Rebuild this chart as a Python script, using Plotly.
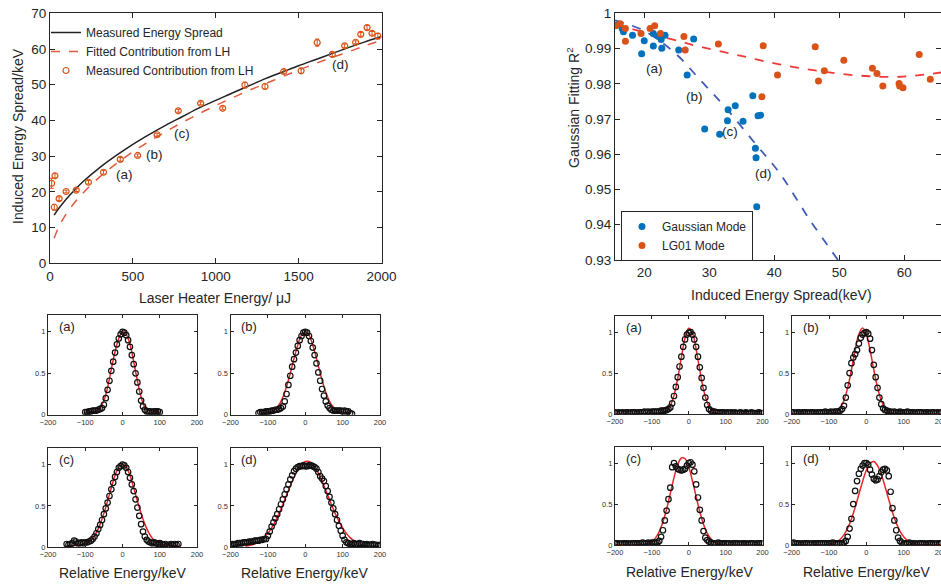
import plotly.graph_objects as go

# ---------------- data: top-left (laser heater scan) ----------------
lh_energy = [10, 30, 26, 55, 97, 158, 232, 323, 424, 529, 646, 774, 909, 1042, 1176,
             1297, 1410, 1515, 1612, 1703, 1778, 1844, 1875, 1913, 1943, 1978]
lh_spread = [22.4, 24.5, 15.7, 18.1, 20.1, 20.5, 22.7, 25.5, 29.1, 30.2, 36.0, 42.7, 44.8, 43.4, 49.9,
             49.5, 53.7, 53.9, 61.8, 58.5, 60.9, 61.9, 64.1, 66.0, 64.4, 63.6]
lh_err = [1.4, 0.6, 0.8, 0.5, 0.4, 0.4, 0.5, 0.5, 0.5, 0.4, 0.4, 0.4, 0.4, 0.4, 0.8,
          0.7, 0.5, 0.7, 1.0, 0.6, 0.5, 0.4, 0.5, 0.6, 0.5, 0.8]
curve_x = [25, 50, 100, 150, 200, 300, 400, 500, 600, 700, 800, 900, 1000, 1100, 1200,
           1300, 1400, 1500, 1600, 1700, 1800, 1900, 2000]
measured_y = [13.5, 15.2, 18.1, 20.6, 22.9, 26.8, 30.2, 33.3, 36.1, 38.7, 41.1, 43.5, 45.6, 47.7, 49.7,
              51.7, 53.5, 55.3, 57.0, 58.7, 60.4, 62.0, 63.5]
fitted_y = [7.0, 9.9, 14.0, 17.1, 19.7, 24.2, 27.9, 31.2, 34.2, 36.9, 39.5, 41.9, 44.2, 46.3, 48.4,
            50.3, 52.2, 54.1, 55.9, 57.6, 59.2, 60.9, 62.4]
tl_labels = ["(a)", "(b)", "(c)", "(d)"]
tl_label_x = [452, 628, 798, 1753]
tl_label_y = [25.0, 30.5, 36.4, 55.7]

# ---------------- data: top-right (Gaussian fitting R^2) ----------------
gauss_x = [15.8, 16.6, 16.8, 18.2, 19.6, 20.0, 21.4, 21.4, 22.2, 22.6, 22.7, 23.2, 25.3, 27.6, 26.6,
           29.3, 31.6, 32.9, 32.8, 34.0, 35.2, 36.7, 37.5, 37.9, 37.1, 37.2, 37.3]
gauss_y = [0.9967, 0.9957, 0.9948, 0.9938, 0.9885, 0.9922, 0.9943, 0.9907, 0.9934, 0.9926, 0.9901,
           0.9938, 0.9896, 0.9927, 0.9825, 0.9672, 0.9657, 0.9726, 0.9695, 0.9738, 0.9694, 0.9766,
           0.9709, 0.9711, 0.9617, 0.9590, 0.9451]
lg_x = [15.6, 16.3, 17.1, 17.1, 19.5, 20.9, 21.6, 22.5, 26.1, 26.3, 31.4, 38.3, 38.1, 40.5, 46.3,
        46.8, 47.7, 50.7, 55.1, 55.8, 56.7, 59.2, 59.3, 59.8, 62.3, 64.0]
lg_y = [0.9965, 0.9970, 0.9957, 0.9921, 0.9943, 0.9957, 0.9965, 0.9943, 0.9934, 0.9896, 0.9913,
        0.9908, 0.9763, 0.9825, 0.9905, 0.9808, 0.9837, 0.9867, 0.9844, 0.9829, 0.9794, 0.9801,
        0.9794, 0.9789, 0.9883, 0.9813]
gauss_fit_x = [15.5, 20, 24.8, 28.6, 32.4, 37.0, 40.8, 45.5, 49.8]
gauss_fit_y = [0.998, 0.995, 0.9886, 0.9811, 0.9735, 0.9632, 0.9547, 0.9413, 0.9300]
lg_fit_x = [15.5, 20, 24.3, 28.6, 34.7, 40.8, 47.0, 53.2, 59.4, 65.65]
lg_fit_y = [0.9968, 0.9946, 0.9926, 0.9905, 0.9880, 0.9855, 0.9836, 0.9823, 0.9820, 0.9832]
tr_label_x = [21.6, 27.8, 33.2, 38.3]
tr_label_y = [0.9844, 0.9763, 0.9664, 0.9546]

# ---------------- data: energy profiles (relative energy, keV) ----------------
# left column (Gaussian laser mode), circles sampled every 5 keV from start
left_a_start = -100
left_a = [0.03, 0.03, 0.04, 0.04, 0.05, 0.05, 0.05, 0.06, 0.07, 0.08,
          0.12, 0.20, 0.30, 0.41, 0.53, 0.64, 0.75, 0.85, 0.92, 0.97,
          1.00, 0.99, 0.96, 0.90, 0.82, 0.72, 0.61, 0.50, 0.39, 0.28,
          0.17, 0.10, 0.06, 0.04, 0.04, 0.04, 0.03, 0.04, 0.04, 0.04,
          0.03]
left_a_fit_start = -100
left_a_fit = [0.03, 0.03, 0.04, 0.05, 0.09, 0.17, 0.33, 0.55, 0.76, 0.92, 1.00,
              0.97, 0.85, 0.64, 0.41, 0.21, 0.09, 0.05, 0.04, 0.04, 0.03]

left_b_start = -125
left_b = [0.02, 0.03, 0.03, 0.03, 0.04, 0.04, 0.04, 0.05, 0.05, 0.06,
          0.06, 0.07, 0.08, 0.10, 0.16, 0.25, 0.36, 0.47, 0.58, 0.67,
          0.75, 0.83, 0.90, 0.95, 0.99, 1.00, 0.99, 0.95, 0.89, 0.81,
          0.72, 0.62, 0.51, 0.41, 0.31, 0.23, 0.16, 0.11, 0.08, 0.06,
          0.05, 0.05, 0.05, 0.05, 0.05, 0.04, 0.05, 0.04, 0.04, 0.02,
          0.01]
left_b_fit_start = -120
left_b_fit = [0.02, 0.02, 0.03, 0.04, 0.07, 0.12, 0.21, 0.34, 0.50, 0.68, 0.84, 0.96, 1.00,
              0.96, 0.84, 0.68, 0.50, 0.34, 0.21, 0.12, 0.07, 0.04, 0.03, 0.02, 0.02]

left_c_start = -150
left_c = [0.04, 0.03, 0.04, 0.05, 0.08, 0.07, 0.05, 0.05, 0.06, 0.05,
          0.06, 0.06, 0.07, 0.08, 0.10, 0.13, 0.17, 0.22, 0.27, 0.33,
          0.40, 0.47, 0.54, 0.62, 0.70, 0.78, 0.85, 0.91, 0.96, 0.98,
          1.00, 0.99, 0.96, 0.91, 0.84, 0.76, 0.68, 0.58, 0.48, 0.38,
          0.28, 0.19, 0.13, 0.09, 0.07, 0.06, 0.05, 0.06, 0.05, 0.04,
          0.05, 0.04, 0.03, 0.04, 0.02, 0.03, 0.04, 0.03, 0.04, 0.03,
          0.04]
left_c_fit_start = -150
left_c_fit = [0.02, 0.02, 0.02, 0.03, 0.03, 0.05, 0.07, 0.11, 0.18, 0.28, 0.41, 0.56, 0.72, 0.87, 0.97,
              1.00, 0.97, 0.87, 0.72, 0.56, 0.41, 0.28, 0.18, 0.11, 0.07, 0.05, 0.03, 0.03, 0.02, 0.02, 0.02]

left_d_start = -200
left_d = [0.03, 0.04, 0.04, 0.04, 0.05, 0.05, 0.05, 0.06, 0.06, 0.06,
          0.07, 0.07, 0.07, 0.08, 0.08, 0.08, 0.09, 0.09, 0.10, 0.10,
          0.14, 0.19, 0.25, 0.30, 0.35, 0.40, 0.46, 0.52, 0.58, 0.64,
          0.70, 0.76, 0.82, 0.87, 0.92, 0.95, 0.97, 0.98, 0.98, 0.99,
          0.98, 0.98, 0.99, 0.99, 0.98, 0.97, 0.95, 0.91, 0.86, 0.83,
          0.80, 0.74, 0.68, 0.61, 0.54, 0.47, 0.40, 0.33, 0.26, 0.20,
          0.14, 0.09, 0.06, 0.05, 0.04, 0.04, 0.05, 0.04, 0.04, 0.05,
          0.04, 0.04, 0.03, 0.04, 0.03, 0.03, 0.04, 0.03, 0.03, 0.02,
          0.03]
left_d_fit_start = -160
left_d_fit = [0.012, 0.02, 0.032, 0.051, 0.079, 0.117, 0.168, 0.234, 0.315, 0.41, 0.517, 0.631, 0.744,
              0.849, 0.938, 1.002, 1.036, 1.036, 1.002, 0.938, 0.849, 0.744, 0.631, 0.517, 0.41,
              0.315, 0.234, 0.168, 0.117, 0.079, 0.051, 0.032, 0.02]

# right column (LG01 laser mode)
right_a_start = -200
right_a = [0.02, 0.01, 0.02, 0.01, 0.02, 0.01, 0.02, 0.02, 0.01, 0.02,
           0.02, 0.02, 0.01, 0.02, 0.02, 0.02, 0.03, 0.02, 0.03, 0.02,
           0.03, 0.03, 0.03, 0.03, 0.03, 0.04, 0.04, 0.04, 0.05, 0.06,
           0.08, 0.13, 0.22, 0.33, 0.45, 0.58, 0.70, 0.82, 0.91, 0.97,
           0.99, 1.00, 0.97, 0.91, 0.82, 0.70, 0.57, 0.44, 0.32, 0.20,
           0.11, 0.06, 0.04, 0.03, 0.03, 0.02, 0.02, 0.02, 0.02, 0.02,
           0.01, 0.02, 0.01, 0.02, 0.01, 0.02, 0.01, 0.01, 0.02, 0.01,
           0.01, 0.02, 0.01, 0.01, 0.02, 0.01, 0.01, 0.01, 0.02, 0.01,
           0.01]
right_a_fit_start = -200
right_a_fit = [0, 0, 0, 0, 0, 0, 0, 0, 0, 0, 0, 0,
               0.005, 0.012, 0.037, 0.10, 0.227, 0.432, 0.69, 0.927, 1.046, 0.993, 0.793, 0.532,
               0.30, 0.142, 0.057, 0.019, 0.005,
               0, 0, 0, 0, 0, 0, 0, 0, 0, 0, 0, 0]

right_b_start = -200
right_b = [0.02, 0.02, 0.01, 0.02, 0.02, 0.01, 0.02, 0.02, 0.02, 0.01,
           0.02, 0.02, 0.02, 0.01, 0.02, 0.02, 0.02, 0.02, 0.03, 0.02,
           0.02, 0.03, 0.02, 0.03, 0.03, 0.03, 0.04, 0.06, 0.10, 0.20,
           0.35, 0.50, 0.62, 0.69, 0.73, 0.78, 0.86, 0.93, 0.97, 0.99,
           1.00, 0.98, 0.92, 0.78, 0.60, 0.45, 0.32, 0.20, 0.12, 0.07,
           0.05, 0.04, 0.03, 0.03, 0.02, 0.03, 0.02, 0.02, 0.03, 0.02,
           0.02, 0.02, 0.03, 0.02, 0.02, 0.02, 0.01, 0.02, 0.02, 0.02,
           0.02, 0.01, 0.02, 0.02, 0.01, 0.02, 0.02, 0.01, 0.02, 0.01,
           0.02]
right_b_fit_start = -200
right_b_fit = [0, 0, 0, 0, 0, 0, 0, 0, 0, 0, 0,
               0.009, 0.028, 0.073, 0.165, 0.322, 0.54, 0.781, 0.975, 1.05, 0.975, 0.781, 0.54,
               0.322, 0.165, 0.073, 0.028, 0.009,
               0, 0, 0, 0, 0, 0, 0, 0, 0, 0, 0, 0, 0]

right_c_start = -200
right_c = [0.02, 0.02, 0.02, 0.01, 0.02, 0.02, 0.02, 0.02, 0.01, 0.02,
           0.02, 0.02, 0.02, 0.02, 0.02, 0.03, 0.02, 0.02, 0.03, 0.02,
           0.03, 0.03, 0.03, 0.03, 0.05, 0.10, 0.18, 0.30, 0.42, 0.56,
           0.70, 0.95, 1.00, 0.96, 0.93, 0.92, 0.91, 0.92, 0.93, 0.97,
           1.00, 1.01, 0.98, 0.90, 0.74, 0.58, 0.43, 0.30, 0.17, 0.09,
           0.06, 0.04, 0.03, 0.02, 0.02, 0.02, 0.03, 0.02, 0.02, 0.02,
           0.02, 0.02, 0.02, 0.01, 0.02, 0.02, 0.02, 0.02, 0.01, 0.02,
           0.02, 0.02, 0.01, 0.02, 0.02, 0.02, 0.01, 0.02, 0.02, 0.02,
           0.02]
right_c_fit_start = -200
right_c_fit = [0, 0, 0, 0, 0, 0, 0, 0,
               0.007, 0.018, 0.042, 0.087, 0.163, 0.28, 0.44, 0.629, 0.822, 0.978, 1.062, 1.053,
               0.951, 0.785, 0.59, 0.405, 0.254, 0.145, 0.075, 0.036, 0.016, 0.006,
               0, 0, 0, 0, 0, 0, 0, 0, 0, 0, 0]

right_d_start = -200
right_d = [0.02, 0.03, 0.02, 0.02, 0.02, 0.01, 0.02, 0.02, 0.02, 0.02,
           0.01, 0.02, 0.02, 0.02, 0.02, 0.02, 0.02, 0.02, 0.02, 0.02,
           0.02, 0.02, 0.03, 0.02, 0.02, 0.02, 0.02, 0.02, 0.03, 0.05,
           0.10, 0.20, 0.32, 0.50, 0.66, 0.78, 0.87, 0.93, 0.97, 1.00,
           1.00, 0.98, 0.92, 0.86, 0.81, 0.79, 0.80, 0.84, 0.89, 0.92,
           0.93, 0.91, 0.84, 0.65, 0.45, 0.30, 0.18, 0.09, 0.05, 0.03,
           0.02, 0.02, 0.02, 0.03, 0.02, 0.02, 0.02, 0.01, 0.02, 0.02,
           0.02, 0.02, 0.01, 0.02, 0.02, 0.02, 0.02, 0.01, 0.02, 0.02,
           0.02]
right_d_fit_start = -200
right_d_fit = [0, 0, 0, 0, 0, 0, 0, 0, 0, 0,
               0.008, 0.018, 0.037, 0.07, 0.124, 0.206, 0.318, 0.459, 0.619, 0.777, 0.912, 0.998,
               1.02, 0.97, 0.863, 0.715, 0.554, 0.40, 0.27, 0.17, 0.10, 0.054, 0.028, 0.013, 0.006,
               0, 0, 0, 0, 0, 0]

profile_step = 5
fit_step = 10
panel_labels = ["(a)", "(b)", "(c)", "(d)"]

# ---------------- figure ----------------
W, H = 941, 585
FONT = "Arial, Liberation Sans, Helvetica, sans-serif"
INK = "#262626"
ORANGE = "#D95319"
BLUE = "#0072BD"


def fx(px):
    return px / W


def fy(py):
    return 1 - py / H


fig = go.Figure()

# --- top-left ---
fig.add_trace(go.Scatter(x=curve_x, y=measured_y, mode="lines", line=dict(color="#222222", width=1.5, shape="spline"),
                         name="Measured Energy Spread", xaxis="x", yaxis="y", legend="legend"))
fig.add_trace(go.Scatter(x=curve_x, y=fitted_y, mode="lines", line=dict(color="#E2583A", width=1.5, dash="dash", shape="spline"),
                         name="Fitted Contribution from LH", xaxis="x", yaxis="y", legend="legend"))
fig.add_trace(go.Scatter(x=lh_energy, y=lh_spread, mode="markers",
                         marker=dict(symbol="circle-open", size=6, color=ORANGE, line=dict(width=1.2, color=ORANGE)),
                         error_y=dict(type="data", array=lh_err, color=ORANGE, thickness=1, width=2),
                         name="Measured Contribution from LH", xaxis="x", yaxis="y", legend="legend"))

# --- top-right ---
fig.add_trace(go.Scatter(x=gauss_fit_x, y=gauss_fit_y, mode="lines", line=dict(color="#3F5CB8", width=1.8, dash="dash", shape="spline"),
                         showlegend=False, xaxis="x2", yaxis="y2"))
fig.add_trace(go.Scatter(x=lg_fit_x, y=lg_fit_y, mode="lines", line=dict(color="#F03A3A", width=1.8, dash="dash", shape="spline"),
                         showlegend=False, xaxis="x2", yaxis="y2"))
fig.add_trace(go.Scatter(x=gauss_x, y=gauss_y, mode="markers", marker=dict(size=7, color=BLUE),
                         name="Gaussian Mode", xaxis="x2", yaxis="y2", legend="legend2"))
fig.add_trace(go.Scatter(x=lg_x, y=lg_y, mode="markers", marker=dict(size=7, color=ORANGE),
                         name="LG01 Mode", xaxis="x2", yaxis="y2", legend="legend2"))

# --- profile panels ---
panels = [
    (left_a_start, left_a, left_a_fit_start, left_a_fit),
    (left_b_start, left_b, left_b_fit_start, left_b_fit),
    (left_c_start, left_c, left_c_fit_start, left_c_fit),
    (left_d_start, left_d, left_d_fit_start, left_d_fit),
    (right_a_start, right_a, right_a_fit_start, right_a_fit),
    (right_b_start, right_b, right_b_fit_start, right_b_fit),
    (right_c_start, right_c, right_c_fit_start, right_c_fit),
    (right_d_start, right_d, right_d_fit_start, right_d_fit),
]
for i, (s, ys, fs, fys) in enumerate(panels):
    ax = str(i + 3)
    xs = [s + profile_step * k for k in range(len(ys))]
    fxs = [fs + fit_step * k for k in range(len(fys))]
    fig.add_trace(go.Scatter(x=fxs, y=fys, mode="lines", line=dict(color="#E8262A", width=1.5, shape="spline"),
                             showlegend=False, xaxis="x" + ax, yaxis="y" + ax))
    fig.add_trace(go.Scatter(x=xs, y=ys, mode="markers",
                             marker=dict(symbol="circle-open", size=5.5, color="#111111", line=dict(width=1.2, color="#111111")),
                             showlegend=False, xaxis="x" + ax, yaxis="y" + ax))

axis_common = dict(showline=True, linecolor=INK, linewidth=1, mirror="ticks", ticks="inside",
                   tickcolor=INK, showgrid=False, zeroline=False, automargin=False)

layout = dict(
    width=W, height=H, autosize=False,
    margin=dict(l=0, r=0, t=0, b=0, autoexpand=False),
    paper_bgcolor="white", plot_bgcolor="white",
    font=dict(family=FONT, color=INK),
)

# top-left axes
layout["xaxis"] = dict(axis_common, domain=[fx(50), fx(381.5)], range=[0, 2000], tickvals=[0, 500, 1000, 1500, 2000],
                       ticklen=5, tickfont=dict(size=13.5, color=INK), anchor="y")
layout["yaxis"] = dict(axis_common, domain=[fy(263.3), fy(13.3)], range=[0, 70], dtick=10,
                       ticklen=5, tickfont=dict(size=13.5, color=INK), anchor="x")
# top-right axes
layout["xaxis2"] = dict(axis_common, domain=[fx(615), 1.0], range=[15.5, 65.65], tickvals=[20, 30, 40, 50, 60],
                        ticklen=5, tickfont=dict(size=13.5, color=INK), anchor="y2")
layout["yaxis2"] = dict(axis_common, domain=[fy(260), fy(13.3)], range=[0.93, 1.0],
                        tickvals=[0.93, 0.94, 0.95, 0.96, 0.97, 0.98, 0.99, 1.0],
                        ticktext=["0.93", "0.94", "0.95", "0.96", "0.97", "0.98", "0.99", "1"],
                        ticklen=5, tickfont=dict(size=13.5, color=INK), anchor="x2")

# profile panel boxes (px): left, right, top, bottom
boxes = [
    (48, 197, 315.3, 414.7), (230.5, 380, 315.3, 414.7),
    (48, 197, 448, 547.3), (230.5, 380, 448, 547.3),
    (615, 762.5, 315.7, 414), (791.7, 941, 315.7, 414),
    (615, 762.5, 446.7, 545), (791.7, 941, 446.7, 545),
]
annotations = []
for i, (l, r, t, b) in enumerate(boxes):
    n = str(i + 3)
    layout["xaxis" + n] = dict(axis_common, domain=[fx(l), min(fx(r), 1.0)], range=[-200, 200],
                               tickvals=[-200, -100, 0, 100, 200], ticklen=3, ticklabeloverflow="allow",
                               tickfont=dict(size=7.5, color="#333333"), anchor="y" + n)
    layout["yaxis" + n] = dict(axis_common, domain=[fy(b), fy(t)], range=[0, 1.2],
                               tickvals=[0, 0.5, 1], ticktext=["0", "0.5", "1"], ticklen=3,
                               tickfont=dict(size=7.5, color="#333333"), anchor="x" + n)
    annotations.append(dict(text=panel_labels[i % 4], x=-176, y=1.06, xref="x" + n, yref="y" + n,
                            xanchor="left", yanchor="middle", showarrow=False,
                            font=dict(size=13, color=INK, family=FONT)))

# legends
layout["legend"] = dict(x=fx(46), y=fy(18), xanchor="left", yanchor="top", bgcolor="rgba(0,0,0,0)",
                        borderwidth=0, font=dict(size=12, color=INK, family=FONT), tracegroupgap=0)
layout["legend2"] = dict(x=fx(621), y=fy(211), xanchor="left", yanchor="top", bgcolor="white",
                         bordercolor=INK, borderwidth=1, font=dict(size=12, color=INK, family=FONT))

# chart annotations
for t, x, y in zip(tl_labels, tl_label_x, tl_label_y):
    annotations.append(dict(text=t, x=x, y=y, xref="x", yref="y", showarrow=False,
                            font=dict(size=13.5, color=INK, family=FONT)))
for t, x, y in zip(tl_labels, tr_label_x, tr_label_y):
    annotations.append(dict(text=t, x=x, y=y, xref="x2", yref="y2", showarrow=False,
                            font=dict(size=13.5, color=INK, family=FONT)))

# axis titles
titles = [
    ("Induced Energy Spread/keV", 18, 136, -90),
    ("Laser Heater Energy/ μJ", 215, 298, 0),
    ("Gaussian Fitting R<sup>2</sup>", 573, 108, -90),
    ("Induced Energy Spread(keV)", 781, 295, 0),
    ("Relative Energy/keV", 123, 573, 0),
    ("Relative Energy/keV", 305, 573, 0),
    ("Relative Energy/keV", 690, 572, 0),
    ("Relative Energy/keV", 867, 572, 0),
]
for t, x, y, ang in titles:
    annotations.append(dict(text=t, x=fx(x), y=fy(y), xref="paper", yref="paper", showarrow=False,
                            xanchor="center", yanchor="middle", textangle=ang,
                            font=dict(size=14, color=INK, family=FONT)))

layout["annotations"] = annotations
fig.update_layout(layout)

fig.write_html("out.html", config={"displayModeBar": False},
               post_script="document.body.style.margin='0px';")
